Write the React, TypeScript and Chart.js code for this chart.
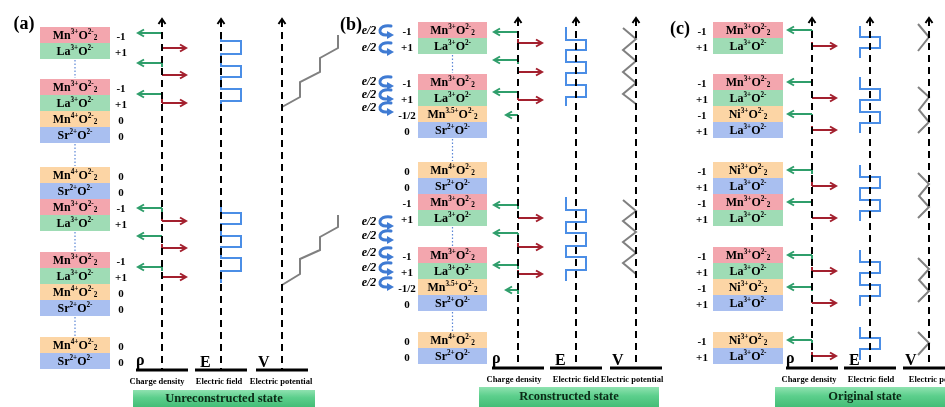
import React, { useEffect, useRef } from "react";
import { Chart, registerables } from "chart.js";
Chart.register(...registerables);

const W = 945;
const H = 407;

// ---------------- data ----------------
const panelLetters = ["(a)", "(b)", "(c)"];
const stateTitles = ["Unreconstructed state", "Rconstructed state", "Original state"];
const axisSymbols = ["ρ", "E", "V"];
const axisCaptions = ["Charge density", "Electric field", "Electric potential"];

const formulas: Record<string, string> = {
  Mn3: "Mn^{3+}O^{2-}_{2}",
  Mn4: "Mn^{4+}O^{2-}_{2}",
  Mn35: "Mn^{3.5+}O^{2-}_{2}",
  Ni3: "Ni^{3+}O^{2-}_{2}",
  La: "La^{3+}O^{2-}",
  LaB: "La^{3+}O^{2-}",
  Sr: "Sr^{2+}O^{2-}",
};

// layer stacks, top to bottom ("|" = omitted repeat, dotted link)
const layersA = ["Mn3", "La", "|", "Mn3", "La", "Mn4", "Sr", "|", "Mn4", "Sr", "Mn3", "La", "|", "Mn3", "La", "Mn4", "Sr", "|", "Mn4", "Sr"];
const chargesA = ["-1", "+1", "-1", "+1", "0", "0", "0", "0", "-1", "+1", "-1", "+1", "0", "0", "0", "0"];
const layersB = ["Mn3", "La", "|", "Mn3", "La", "Mn35", "Sr", "|", "Mn4", "Sr", "Mn3", "La", "|", "Mn3", "La", "Mn35", "Sr", "|", "Mn4", "Sr"];
const chargesB = ["-1", "+1", "-1", "+1", "-1/2", "0", "0", "0", "-1", "+1", "-1", "+1", "-1/2", "0", "0", "0"];
const layersC = ["Mn3", "La", "|", "Mn3", "La", "Ni3", "LaB", "|", "Ni3", "LaB", "Mn3", "La", "|", "Mn3", "La", "Ni3", "LaB", "|", "Ni3", "LaB"];
const chargesC = ["-1", "+1", "-1", "+1", "-1", "+1", "-1", "+1", "-1", "+1", "-1", "+1", "-1", "+1", "-1", "+1"];

// charge-density arrows (y position, relative charge)
const rhoA_y = [33, 48, 63, 75, 94, 103, 208, 221, 236, 248, 267, 277];
const rhoA_v = [-1, 1, -1, 1, -1, 1, -1, 1, -1, 1, -1, 1];
const rhoB_y = [32, 43, 60, 72, 92, 100, 115, 205, 218, 233, 247, 265, 274, 290];
const rhoB_v = [-1, 1, -1, 1, -1, 1, -0.5, -1, 1, -1, 1, -1, 1, -0.5];

// electric field square waves: breakpoints (y) and held values
const eFieldA_y = [
  [35, 41, 54, 66, 77, 89, 101, 111],
  [200, 213, 224, 236, 247, 258, 271, 283],
];
const eFieldA_v = [[0, 1, 0, 1, 0, 1, 0], [0, 1, 0, 1, 0, 1, 0]];
const eFieldB_y = [
  [27, 40, 50, 62, 73, 85, 97, 106],
  [197, 210, 222, 233, 246, 257, 270, 281],
];
const eFieldB_v = [[-1, 1, -1, 1, -1, 1, -1], [-1, 1, -1, 1, -1, 1, -1]];
const eFieldC_y = [
  [26, 37, 48, 58],
  [77, 89, 100, 112, 123, 133],
  [165, 177, 188, 200, 211, 221],
  [250, 262, 273, 285, 296, 306],
  [327, 338, 349, 360],
];
const eFieldC_v = [[-1, 1, -1], [-1, 1, -1, 1, -1], [-1, 1, -1, 1, -1], [-1, 1, -1, 1, -1], [-1, 1, -1]];

// electric potential traces: [offset from axis, y]
const potentialA = [
  [[0, 107], [18, 97], [18, 82], [38, 72], [38, 58], [56, 48], [56, 35]],
  [[0, 285], [18, 274], [18, 259], [38, 250], [38, 237], [56, 227], [56, 215]],
];
const potentialB = [
  [[-13, 28], [0, 39], [-13, 50], [0, 61], [-13, 72], [0, 83], [-13, 94], [0, 104]],
  [[-13, 200], [0, 211], [-13, 221], [0, 232], [-13, 242], [0, 253], [-13, 263], [0, 274]],
];
const potentialC = [
  [[-11, 24], [0, 37], [-11, 51]],
  [[-11, 87], [0, 97], [-10, 110], [0, 122], [-11, 133]],
  [[-11, 173], [0, 184], [-10, 196], [0, 207], [-11, 218]],
  [[-11, 258], [0, 269], [-10, 280], [0, 291], [-11, 302]],
  [[-11, 332], [0, 343], [-11, 355]],
];

// e/2 electron-transfer marks in (b)
const eHalfY = [31, 48, 82, 95, 108, 222, 236, 253, 268, 283];

// ---------------- layout & style ----------------
const SERIF = '"Liberation Serif", "Times New Roman", Times, serif';
const LAYER_H = 16;
const GAPS = [20, 24, 21, 21];
const GREEN = "#2f9e6b";
const RED = "#a3202e";
const BLUE = "#4b8ee6";
const GRAY = "#808080";
const CURL = "#3f7bd3";
const DOT = "#5b86d6";
const FILL: Record<string, string> = {
  Mn3: "#f3a6ae",
  La: "#9fdcb5",
  Mn4: "#fcd5a5",
  Mn35: "#fcd5a5",
  Ni3: "#fcd5a5",
  Sr: "#a9bff0",
  LaB: "#a9bff0",
};

const panels = [
  { top: 27, boxL: 40, boxR: 110, chargeX: 121, axes: [162, 221, 282], base: 370, axisTop: 19, letter: [24, 24], capY: 382, caps: [157, 219, 281], banner: [133, 315, 390], bannerText: [224, 399], dotted: true, layers: layersA, charges: chargesA, eScale: 20 },
  { top: 22, boxL: 418, boxR: 487, chargeX: 407, axes: [518, 576, 636], base: 368, axisTop: 18, letter: [351, 25], capY: 380, caps: [514, 576, 632], banner: [479, 659, 387], bannerText: [569, 397], dotted: true, layers: layersB, charges: chargesB, eScale: 10 },
  { top: 22, boxL: 713, boxR: 783, chargeX: 702, axes: [812, 870, 929], base: 368, axisTop: 18, letter: [680, 29], capY: 380, caps: [809, 871, 940], banner: [775, 960, 387], bannerText: [865, 397], dotted: false, layers: layersC, charges: chargesC, eScale: 10 },
];

function stack(layers: string[], top: number) {
  const boxes: { type: string; y0: number; y1: number }[] = [];
  const links: { y0: number; y1: number }[] = [];
  let y = top;
  let g = 0;
  layers.forEach((t) => {
    if (t === "|") {
      links.push({ y0: y, y1: y + GAPS[g] });
      y += GAPS[g];
      g++;
    } else {
      boxes.push({ type: t, y0: y, y1: y + LAYER_H });
      y += LAYER_H;
    }
  });
  return { boxes, links };
}

function parseFormula(s: string) {
  const out: { t: string; m: string }[] = [];
  const re = /\^\{([^}]*)\}|_\{([^}]*)\}|([^\^_]+)/g;
  let m: RegExpExecArray | null;
  while ((m = re.exec(s))) {
    if (m[1] !== undefined) out.push({ t: m[1], m: "sup" });
    else if (m[2] !== undefined) out.push({ t: m[2], m: "sub" });
    else out.push({ t: m[3], m: "" });
  }
  return out;
}

function lineDs(pts: number[][], color: string, width: number, dash: number[] = []) {
  return {
    data: pts.map(([x, y]) => ({ x, y })),
    showLine: true,
    borderColor: color,
    backgroundColor: color,
    borderWidth: width,
    borderDash: dash,
    pointRadius: 0,
    pointHoverRadius: 0,
    fill: false,
    tension: 0,
    borderCapStyle: "butt",
    borderJoinStyle: "miter",
  };
}

function buildDatasets() {
  const ds: any[] = [];
  const rhoSets = [
    rhoA_y.map((y, i) => [y, rhoA_v[i]]),
    rhoB_y.map((y, i) => [y, rhoB_v[i]]),
    (() => {
      const { boxes } = stack(layersC, panels[2].top);
      return boxes.map((b, i) => [(b.y0 + b.y1) / 2, chargesC[i] === "-1" ? -1 : 1]);
    })(),
  ];
  const eSets = [
    [eFieldA_y, eFieldA_v],
    [eFieldB_y, eFieldB_v],
    [eFieldC_y, eFieldC_v],
  ];
  const vSets = [potentialA, potentialB, potentialC];

  panels.forEach((p, pi) => {
    if (p.dotted) {
      const { links } = stack(p.layers, p.top);
      const cx = (p.boxL + p.boxR) / 2;
      links.forEach((l) => ds.push(lineDs([[cx, l.y0 + 1], [cx, l.y1 - 1]], DOT, 1.2, [1.5, 2])));
    }
    p.axes.forEach((ax) => {
      ds.push(lineDs([[ax, p.axisTop + 1], [ax, p.base]], "#000", 2, [7, 5]));
      ds.push(lineDs([[ax - 3.5, p.axisTop + 5], [ax, p.axisTop], [ax + 3.5, p.axisTop + 5]], "#000", 2));
      ds.push(lineDs([[ax - 26, p.base], [ax + 26, p.base]], "#000", 3));
    });
    const rx = p.axes[0];
    rhoSets[pi].forEach(([y, v]) => {
      const col = v < 0 ? GREEN : RED;
      const tip = rx + v * 24;
      const dir = v < 0 ? -1 : 1;
      ds.push(lineDs([[rx, y], [tip, y]], col, 2));
      ds.push(lineDs([[tip - dir * 6, y - 3.5], [tip, y], [tip - dir * 6, y + 3.5]], col, 2));
      ds.push(lineDs([[rx, y], [rx, y + (v < 0 ? 4 : -4)]], col, 2));
    });
    const ex = p.axes[1];
    const [ys, vs] = eSets[pi];
    (ys as number[][]).forEach((b, ti) => {
      const vals = (vs as number[][])[ti];
      const pts: number[][] = [];
      vals.forEach((v, i) => {
        pts.push([ex + v * p.eScale, b[i]]);
        pts.push([ex + v * p.eScale, b[i + 1]]);
      });
      ds.push(lineDs(pts, BLUE, 2));
    });
    const vx = p.axes[2];
    vSets[pi].forEach((tr) => ds.push(lineDs(tr.map(([dx, y]) => [vx + dx, y]), GRAY, 2)));
  });
  return ds;
}

const diagramPlugin = {
  id: "diagram",
  beforeDraw(chart: any) {
    const { ctx } = chart;
    ctx.save();
    ctx.fillStyle = "#fff";
    ctx.fillRect(0, 0, chart.width, chart.height);
    ctx.restore();
  },
  beforeDatasetsDraw(chart: any) {
    const { ctx } = chart;
    const sx = chart.scales.x;
    const sy = chart.scales.y;
    const px = (v: number) => sx.getPixelForValue(v);
    const py = (v: number) => sy.getPixelForValue(v);
    ctx.save();
    panels.forEach((p) => {
      const [bl, br, bt] = p.banner;
      const g = ctx.createLinearGradient(0, py(bt), 0, py(H));
      g.addColorStop(0, "#8fe2b0");
      g.addColorStop(0.45, "#5ccf8c");
      g.addColorStop(1, "#44bd77");
      ctx.fillStyle = g;
      ctx.fillRect(px(bl), py(bt), px(br) - px(bl), py(H) - py(bt));
      const { boxes } = stack(p.layers, p.top);
      boxes.forEach((b) => {
        ctx.fillStyle = FILL[b.type];
        ctx.fillRect(px(p.boxL), py(b.y0), px(p.boxR) - px(p.boxL), py(b.y1) - py(b.y0));
      });
    });
    ctx.restore();
  },
  afterDatasetsDraw(chart: any) {
    const { ctx } = chart;
    const sx = chart.scales.x;
    const sy = chart.scales.y;
    const px = (v: number) => sx.getPixelForValue(v);
    const py = (v: number) => sy.getPixelForValue(v);
    ctx.save();
    ctx.fillStyle = "#000";
    panels.forEach((p, pi) => {
      const { boxes } = stack(p.layers, p.top);
      const cx = (p.boxL + p.boxR) / 2;
      boxes.forEach((b, i) => {
        const cy = (b.y0 + b.y1) / 2 + 0.5;
        const parts = parseFormula(formulas[b.type]);
        const size = 12;
        const fonts = { "": `bold ${size}px ${SERIF}`, sup: `bold ${size * 0.6}px ${SERIF}`, sub: `bold ${size * 0.6}px ${SERIF}` } as Record<string, string>;
        let w = 0;
        const ws = parts.map((s) => {
          ctx.font = fonts[s.m];
          const m = ctx.measureText(s.t).width;
          w += m;
          return m;
        });
        let xx = px(cx) - w / 2;
        ctx.textBaseline = "middle";
        ctx.textAlign = "left";
        parts.forEach((s, k) => {
          ctx.font = fonts[s.m];
          const dy = s.m === "sup" ? -size * 0.3 : s.m === "sub" ? size * 0.25 : 0;
          ctx.fillText(s.t, xx, py(cy) + dy);
          xx += ws[k];
        });
        ctx.font = `bold 11px ${SERIF}`;
        ctx.textAlign = "center";
        ctx.fillText(p.charges[i], px(p.chargeX), py(cy + 2));
      });
      ctx.font = `bold 18px ${SERIF}`;
      ctx.textAlign = "center";
      ctx.textBaseline = "middle";
      ctx.fillText(panelLetters[pi], px(p.letter[0]), py(p.letter[1]));
      ctx.textBaseline = "alphabetic";
      ctx.textAlign = "left";
      ctx.font = `bold 16px ${SERIF}`;
      const offs = [-26, -21, -24];
      p.axes.forEach((ax, k) => {
        ctx.fillText(axisSymbols[k], px(ax + offs[k]), py(p.base - (k === 0 ? 5 : 3)));
      });
      ctx.font = `bold 8.5px ${SERIF}`;
      ctx.textAlign = "center";
      ctx.textBaseline = "middle";
      p.caps.forEach((c, k) => ctx.fillText(axisCaptions[k], px(c), py(p.capY)));
      ctx.font = `bold 12.5px ${SERIF}`;
      ctx.fillStyle = "#0b2a16";
      ctx.fillText(stateTitles[pi], px(p.bannerText[0]), py(p.bannerText[1]));
      ctx.fillStyle = "#000";
    });
    eHalfY.forEach((y) => {
      ctx.font = `italic bold 12px ${SERIF}`;
      ctx.textAlign = "center";
      ctx.textBaseline = "middle";
      ctx.fillStyle = "#000";
      ctx.fillText("e/2", px(369), py(y));
      ctx.strokeStyle = CURL;
      ctx.fillStyle = CURL;
      ctx.lineWidth = 3;
      ctx.lineCap = "round";
      ctx.beginPath();
      ctx.moveTo(px(391), py(y - 5));
      ctx.bezierCurveTo(px(377), py(y - 7), px(377), py(y + 5), px(387), py(y + 4));
      ctx.stroke();
      ctx.beginPath();
      ctx.moveTo(px(394), py(y + 4));
      ctx.lineTo(px(387), py(y));
      ctx.lineTo(px(387), py(y + 8));
      ctx.closePath();
      ctx.fill();
      ctx.fillStyle = "#000";
    });
    ctx.restore();
  },
};

export default function App() {
  const ref = useRef<HTMLCanvasElement>(null);
  useEffect(() => {
    document.body.style.margin = "0";
    const chart = new Chart(ref.current as HTMLCanvasElement, {
      type: "scatter",
      data: { datasets: buildDatasets() as any },
      options: {
        animation: false,
        responsive: false,
        devicePixelRatio: 1,
        events: [],
        layout: { padding: 0 },
        plugins: { legend: { display: false }, tooltip: { enabled: false } },
        scales: {
          x: { type: "linear", min: 0, max: W, display: false },
          y: { type: "linear", min: 0, max: H, reverse: true, display: false },
        },
      },
      plugins: [diagramPlugin as any],
    });
    return () => chart.destroy();
  }, []);
  return (
    <div style={{ width: W, height: H }}>
      <canvas ref={ref} width={W} height={H} style={{ display: "block" }} />
    </div>
  );
}
